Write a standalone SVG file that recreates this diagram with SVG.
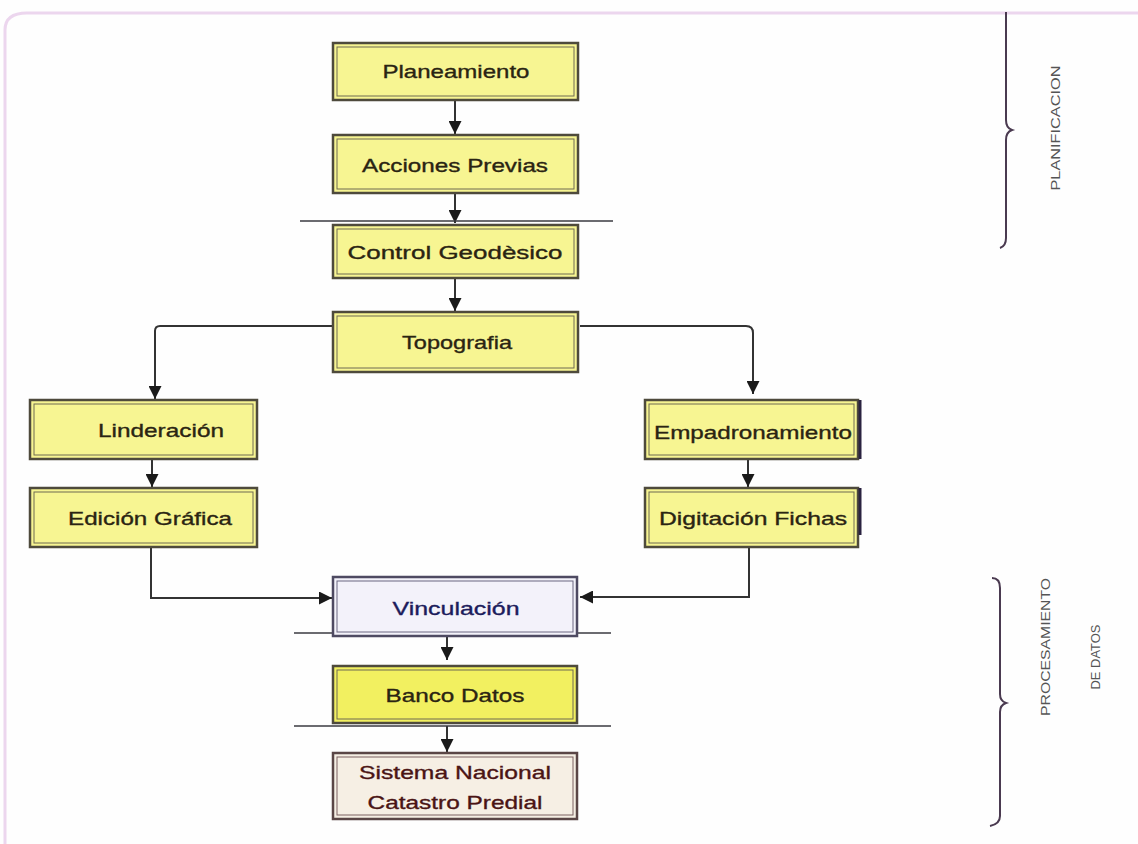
<svg xmlns="http://www.w3.org/2000/svg" width="1138" height="844" viewBox="0 0 1138 844">
<defs>
<style>
.bg{fill:#fefefe}
.frame{fill:none;stroke:#ecd6ee;stroke-width:3}
.box{fill:#f7f592;stroke:#4e4a3c;stroke-width:2.5}
.inner{fill:none;stroke:#6e6a52;stroke-width:1}
.lbl{font-family:"Liberation Sans",Arial,sans-serif;font-size:19px;fill:#2a2412;stroke:#2a2412;stroke-width:0.35;text-anchor:middle}
.conn{fill:none;stroke:#333333;stroke-width:2}
.sep{fill:none;stroke:#3a3a40;stroke-width:1.5}
.brace{fill:none;stroke:#4a3a50;stroke-width:2}
.side{font-family:"Liberation Sans",Arial,sans-serif;font-size:13px;fill:#555555;text-anchor:middle}
</style>
<marker id="ah" markerUnits="userSpaceOnUse" markerWidth="13" markerHeight="13" viewBox="0 0 10 10" refX="10" refY="5" orient="auto">
<path d="M0,0 L10,5 L0,10 z" fill="#1a1a1a"/>
</marker>
</defs>
<rect class="bg" x="0" y="0" width="1138" height="844"/>
<path class="frame" d="M5,844 V30 Q5,13 27,13 H1138"/>

<g id="connectors">
<path class="conn" marker-end="url(#ah)" d="M455,100 V134"/>
<path class="conn" marker-end="url(#ah)" d="M455,193 V223"/>
<path class="conn" marker-end="url(#ah)" d="M455,278 V311"/>
<path class="conn" marker-end="url(#ah)" d="M333,326 H160 Q155,326 155,331 V399"/>
<path class="conn" marker-end="url(#ah)" d="M580,326 H746 Q753,326 753,333 V394"/>
<path class="conn" marker-end="url(#ah)" d="M152,459 V487"/>
<path class="conn" marker-end="url(#ah)" d="M748,459 V487"/>
<path class="conn" marker-end="url(#ah)" d="M151,547 V598 H332"/>
<path class="conn" marker-end="url(#ah)" d="M749,547 V597 H580"/>
<path class="conn" marker-end="url(#ah)" d="M447,636 V660"/>
<path class="conn" marker-end="url(#ah)" d="M447,726 V752"/>
<path class="sep" d="M300,221 H613"/>
<path class="sep" d="M294,633 H611"/>
<path class="sep" d="M294,726 H611"/>
</g>

<g id="n-planeamiento">
<rect class="box" x="333" y="43" width="245" height="57"/>
<rect class="inner" x="337" y="47" width="237" height="49"/>
<text class="lbl" x="456" y="78" textLength="147" lengthAdjust="spacingAndGlyphs">Planeamiento</text>
</g>
<g id="n-acciones">
<rect class="box" x="333" y="135" width="245" height="58"/>
<rect class="inner" x="337" y="139" width="237" height="50"/>
<text class="lbl" x="455" y="172" textLength="186" lengthAdjust="spacingAndGlyphs">Acciones Previas</text>
</g>
<g id="n-control">
<rect class="box" x="333" y="225" width="245" height="53"/>
<rect class="inner" x="337" y="229" width="237" height="45"/>
<text class="lbl" x="455" y="259" textLength="215" lengthAdjust="spacingAndGlyphs">Control  Geodèsico</text>
</g>
<g id="n-topografia">
<rect class="box" x="333" y="312" width="245" height="60"/>
<rect class="inner" x="337" y="316" width="237" height="52"/>
<text class="lbl" x="457" y="349" textLength="110" lengthAdjust="spacingAndGlyphs">Topografia</text>
</g>
<g id="n-linderacion">
<rect class="box" x="30" y="400" width="227" height="59"/>
<rect class="inner" x="34" y="404" width="219" height="51"/>
<text class="lbl" x="161" y="437" textLength="126" lengthAdjust="spacingAndGlyphs">Linderación</text>
</g>
<g id="n-edicion">
<rect class="box" x="30" y="488" width="227" height="59"/>
<rect class="inner" x="34" y="492" width="219" height="51"/>
<text class="lbl" x="150" y="525" textLength="164" lengthAdjust="spacingAndGlyphs">Edición Gráfica</text>
</g>
<g id="n-empadronamiento">
<rect class="box" x="645" y="400" width="213" height="59"/>
<rect class="inner" x="649" y="404" width="205" height="51"/>
<path d="M860,400 V459" stroke="#2a2240" stroke-width="3"/>
<text class="lbl" x="753" y="439" textLength="198" lengthAdjust="spacingAndGlyphs">Empadronamiento</text>
</g>
<g id="n-digitacion">
<rect class="box" x="645" y="488" width="213" height="59"/>
<rect class="inner" x="649" y="492" width="205" height="51"/>
<path d="M860,488 V535" stroke="#2a2240" stroke-width="3"/>
<text class="lbl" x="753" y="525" textLength="188" lengthAdjust="spacingAndGlyphs">Digitación Fichas</text>
</g>
<g id="n-vinculacion">
<rect class="box" x="333" y="577" width="244" height="59" style="fill:#f3f2fa;stroke:#4e4a62"/>
<rect class="inner" x="337" y="581" width="236" height="51" style="stroke:#6a6680"/>
<text class="lbl" x="456" y="615" textLength="127" lengthAdjust="spacingAndGlyphs" style="fill:#1c1c5c;stroke:#1c1c5c">Vinculación</text>
</g>
<g id="n-banco">
<rect class="box" x="333" y="666" width="244" height="57" style="fill:#f2f060"/>
<rect class="inner" x="337" y="670" width="236" height="49"/>
<text class="lbl" x="455" y="702" textLength="139" lengthAdjust="spacingAndGlyphs">Banco Datos</text>
</g>
<g id="n-sistema">
<rect class="box" x="333" y="753" width="244" height="66" style="fill:#f6efe4;stroke:#5a4646"/>
<rect class="inner" x="337" y="757" width="236" height="58" style="stroke:#7a6060"/>
<text class="lbl" x="455" y="779" textLength="192" lengthAdjust="spacingAndGlyphs" style="fill:#4a1414;stroke:#4a1414">Sistema Nacional</text>
<text class="lbl" x="455" y="809" textLength="175" lengthAdjust="spacingAndGlyphs" style="fill:#4a1414;stroke:#4a1414">Catastro Predial</text>
</g>

<g id="brace-planificacion">
<path class="brace" d="M1006,12 V120 Q1006,128 1012,130 Q1006,132 1006,140 V238 Q1006,246 1000,248"/>
<text class="side" transform="translate(1060,128) rotate(-90)" textLength="125" lengthAdjust="spacingAndGlyphs">PLANIFICACION</text>
</g>
<g id="brace-procesamiento">
<path class="brace" d="M992,578 Q1000,578 1000,588 V694 Q1000,701 1006,703 Q1000,705 1000,712 V816 Q1000,824 990,826"/>
<text class="side" transform="translate(1050,647) rotate(-90)" textLength="138" lengthAdjust="spacingAndGlyphs">PROCESAMIENTO</text>
<text class="side" transform="translate(1100,657) rotate(-90)" textLength="65" lengthAdjust="spacingAndGlyphs">DE DATOS</text>
</g>
</svg>
